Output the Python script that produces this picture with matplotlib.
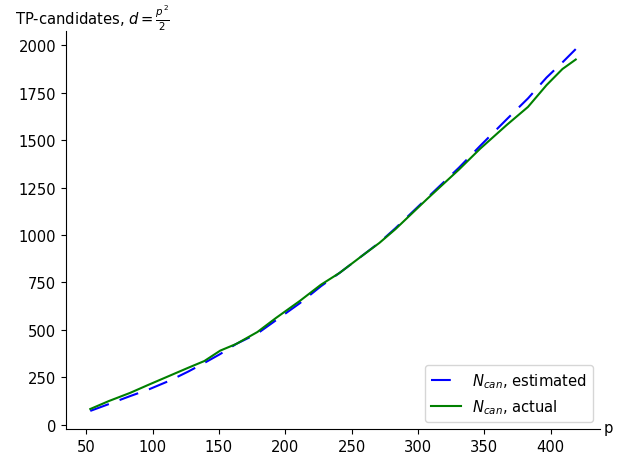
import matplotlib
matplotlib.use("Agg")
import matplotlib.pyplot as plt

p_values = [53, 67, 83, 97, 113, 127, 139, 151, 163, 179, 193, 211, 227, 241,
            257, 271, 283, 307, 331, 347, 367, 383, 397, 409, 419]
n_estimated = [72, 108, 150, 185, 232, 280, 325, 372, 425, 480, 550, 640, 730, 800,
               885, 960, 1035, 1195, 1355, 1470, 1610, 1720, 1830, 1910, 1980]
n_actual = [82, 124, 167, 210, 258, 300, 335, 390, 425, 488, 562, 652, 738, 800,
            885, 958, 1030, 1190, 1345, 1455, 1580, 1675, 1790, 1875, 1925]

plt.rcParams["font.size"] = 10.6

fig = plt.figure(figsize=(6.3, 4.56), dpi=100)
ax = fig.add_axes([66/630, 26/456, 534/630, 398/456])

ax.plot(p_values, n_estimated, color="blue", linewidth=1.5, dashes=(9.5, 5.5),
        label=r"$N_{can}$, estimated")
ax.plot(p_values, n_actual, color="green", linewidth=1.5,
        label=r"$N_{can}$, actual")

ax.spines["top"].set_visible(False)
ax.spines["right"].set_visible(False)
ax.set_yticks([0, 250, 500, 750, 1000, 1250, 1500, 1750, 2000])
ax.set_xticks([50, 100, 150, 200, 250, 300, 350, 400])

ax.text(-0.0955, 1.0176, r"TP-candidates, $d=\frac{p^2}{2}$", transform=ax.transAxes,
        ha="left", va="baseline")
ax.text(1.006, 0.005, "p", transform=ax.transAxes, ha="left", va="center")

ax.legend(loc="lower right")

fig.savefig("out.png", dpi=100)
